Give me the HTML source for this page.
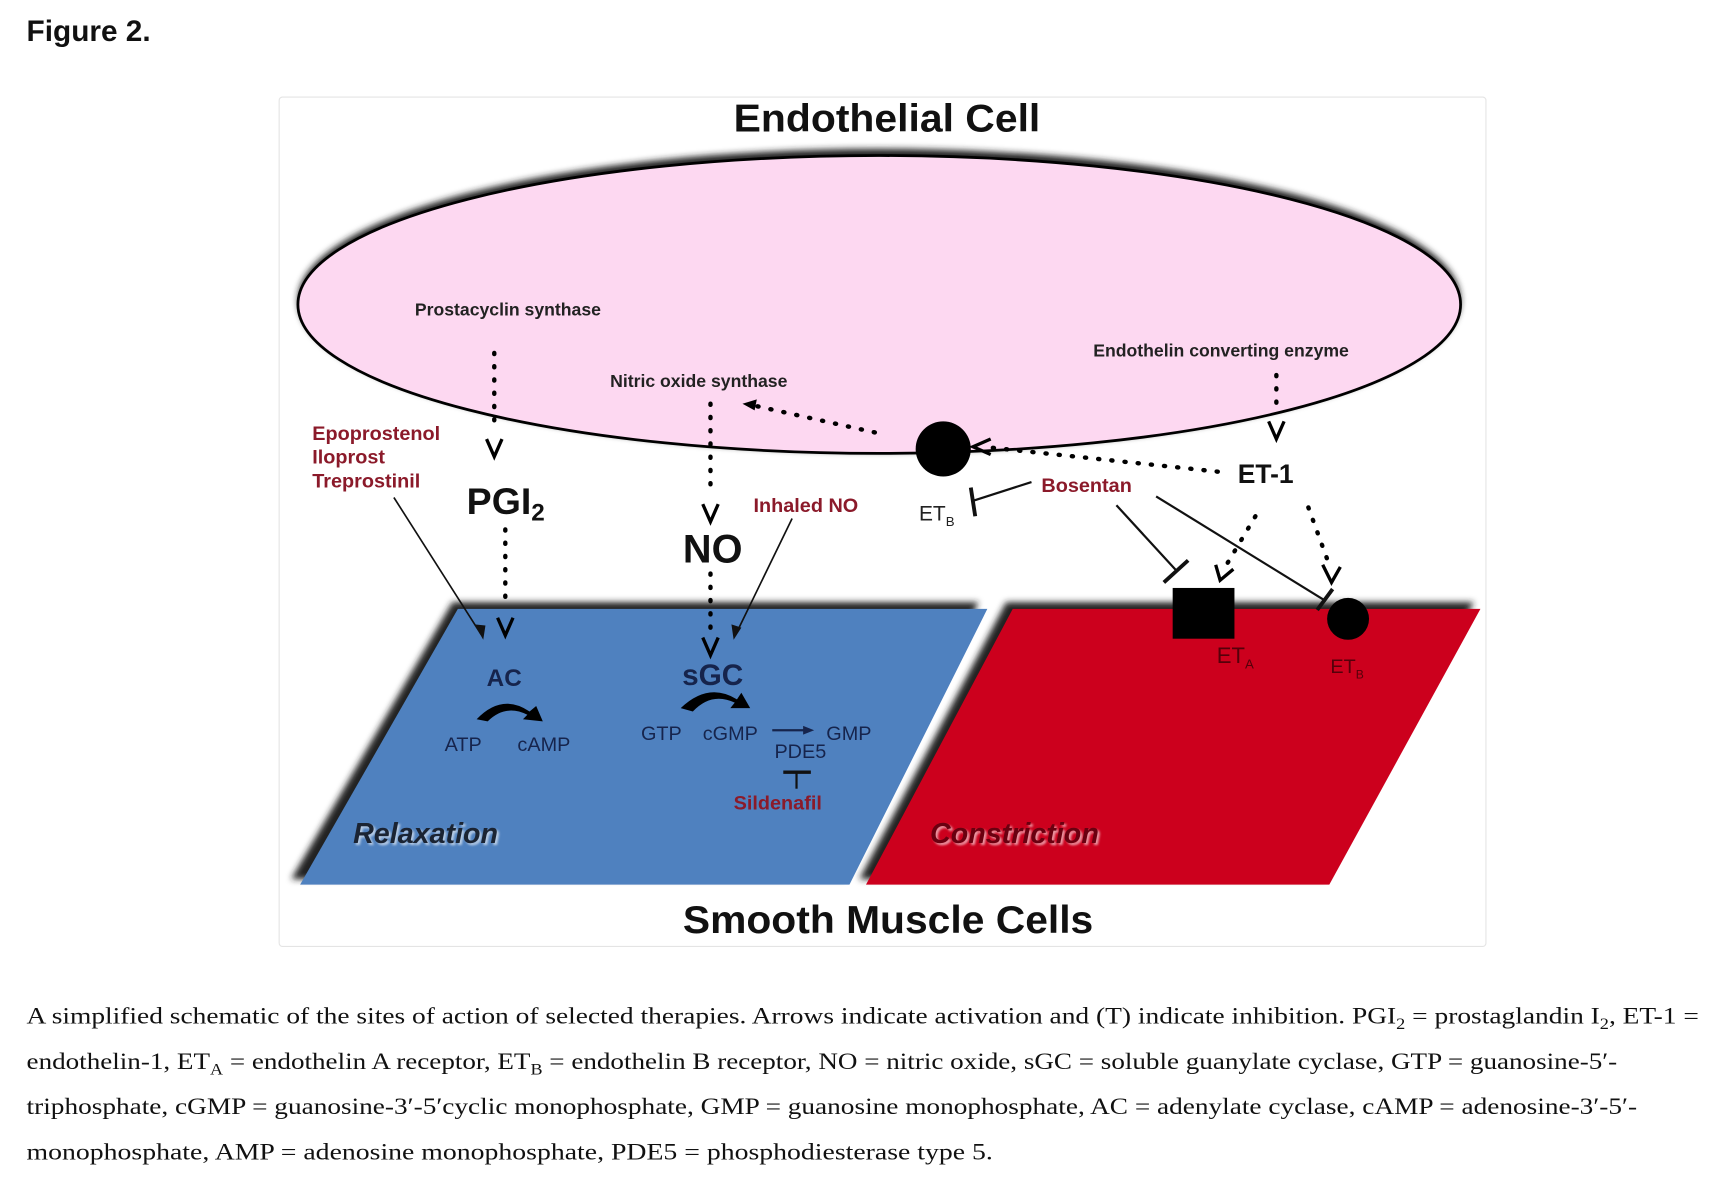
<!DOCTYPE html>
<html><head><meta charset="utf-8"><style>
html,body{margin:0;padding:0;background:#fff;}
svg{display:block;}
text{font-family:"Liberation Sans",sans-serif;}
.b{font-weight:bold;}
.r{fill:#8b1a2a;font-weight:bold;}
.n{fill:#16244c;}
.cap{font-family:"Liberation Serif",serif;font-size:21px;fill:#111;}
</style></head><body>
<svg width="1721" height="1177" viewBox="0 0 1560 1067" xmlns="http://www.w3.org/2000/svg">
<defs>
<filter id="sh" x="-10%" y="-10%" width="120%" height="130%"><feGaussianBlur stdDeviation="3"/></filter>
<filter id="ts"><feGaussianBlur stdDeviation="1"/></filter>
</defs>
<text x="24" y="37" class="b" font-size="27" fill="#111">Figure 2.</text>
<rect x="253" y="88" width="1094" height="770" fill="#fff" stroke="#e4e4e4" stroke-width="1" rx="3"/>
<text x="665" y="119" class="b" font-size="35" fill="#111" textLength="278" lengthAdjust="spacingAndGlyphs">Endothelial Cell</text>
<ellipse cx="797" cy="272" rx="527" ry="137" fill="#222" filter="url(#sh)"/>
<ellipse cx="797" cy="276" rx="527" ry="135" fill="#fdd8f1" stroke="#000" stroke-width="2.5"/>
<polygon points="410,546 887,546 765,797 264,797" fill="#222" filter="url(#sh)"/>
<polygon points="912,546 1336,546 1200,797 779,797" fill="#222" filter="url(#sh)"/>
<polygon points="415,552 895,552 770,802 272,802" fill="#4f81bf"/>
<polygon points="918,552 1342,552 1205,802 785,802" fill="#cc001d"/>
<text x="619" y="846" class="b" font-size="35" fill="#111" textLength="372" lengthAdjust="spacingAndGlyphs">Smooth Muscle Cells</text>

<g font-size="16" class="b" fill="#222">
<text x="376" y="286">Prostacyclin synthase</text>
<text x="553" y="351">Nitric oxide synthase</text>
<text x="991" y="323">Endothelin converting enzyme</text>
</g>
<g stroke="#000" stroke-width="4" stroke-dasharray="1 11" stroke-linecap="round" fill="none">
<line x1="448" y1="320" x2="448" y2="385"/>
<line x1="644" y1="366" x2="644" y2="450"/>
<line x1="1157" y1="340" x2="1157" y2="372"/>
<line x1="458" y1="480" x2="458" y2="550"/>
<line x1="644" y1="520" x2="644" y2="572"/>
<line x1="793" y1="392" x2="685" y2="368"/>
<line x1="900" y1="406" x2="1108" y2="428"/>
<line x1="1138" y1="468" x2="1110" y2="515"/>
<line x1="1186" y1="460" x2="1206" y2="515"/>
</g>
<g stroke="#000" stroke-width="3" fill="none">
<polyline points="441,398 448,414 455,398"/>
<polyline points="637,457 644,473 651,457"/>
<polyline points="1150,382 1157,398 1164,382"/>
<polyline points="451,560 458,576 465,560"/>
<polyline points="637,578 644,594 651,578"/>
<polyline points="898,398 882,405 898,412"/>
<polyline points="1102,512 1106,526 1118,516"/>
<polyline points="1199,512 1207,528 1215,514"/>
</g>
<polygon points="673,366 686,362 684,372" fill="#000"/>
<g font-size="18" class="r">
<text x="283" y="399">Epoprostenol</text>
<text x="283" y="420">Iloprost</text>
<text x="283" y="442">Treprostinil</text>
<text x="683" y="464">Inhaled NO</text>
<text x="944" y="446">Bosentan</text>
</g>
<text x="423" y="466" class="b" font-size="34" fill="#111">PGI<tspan font-size="22" dy="6">2</tspan></text>
<text x="619" y="510" class="b" font-size="36" fill="#111">NO</text>
<g stroke="#111" stroke-width="1.5" fill="none">
<line x1="357" y1="451" x2="436" y2="575"/>
<line x1="718" y1="470" x2="667" y2="575"/>
</g>
<polygon points="438,580 430,566 440,567" fill="#111"/>
<polygon points="665,580 663,566 672,569" fill="#111"/>
<text x="457" y="622" text-anchor="middle" class="b n" font-size="22">AC</text>
<text x="646" y="621" text-anchor="middle" class="b n" font-size="27">sGC</text>
<path d="M432,652 Q455,628 480,645 L486,640 L492,654 L474,652 L478,648 Q458,638 442,654 Z" fill="#000"/>
<path d="M617,642 Q642,618 668,634 L672,628 L680,642 L662,642 L666,637 Q645,627 628,645 Z" fill="#000"/>
<g class="n" font-size="18">
<text x="403" y="681">ATP</text>
<text x="469" y="681">cAMP</text>
<text x="581" y="671">GTP</text>
<text x="637" y="671">cGMP</text>
<text x="749" y="671">GMP</text>
<text x="702" y="687">PDE5</text>
</g>
<line x1="700" y1="662" x2="730" y2="662" stroke="#16244c" stroke-width="2"/>
<polygon points="738,662 728,658 728,666" fill="#16244c"/>
<line x1="710" y1="700" x2="735" y2="700" stroke="#111" stroke-width="3"/>
<line x1="722" y1="700" x2="722" y2="715" stroke="#111" stroke-width="2"/>
<text x="665" y="734" font-size="18" class="r">Sildenafil</text>
<text x="322" y="766" class="b" font-size="26" font-style="italic" fill="#fff" opacity="0.6" filter="url(#ts)">Relaxation</text>
<text x="320" y="764" class="b" font-size="26" font-style="italic" fill="#1b2433">Relaxation</text>
<text x="845" y="766" class="b" font-size="26" font-style="italic" fill="#fff" opacity="0.6" filter="url(#ts)">Constriction</text>
<text x="843" y="764" class="b" font-size="26" font-style="italic" fill="#6a0010">Constriction</text>
<circle cx="855" cy="407" r="25" fill="#000"/>
<text x="1122" y="438" class="b" font-size="24" fill="#111">ET-1</text>
<text x="833" y="472" font-size="19" fill="#222">ET<tspan font-size="12" dy="5">B</tspan></text>
<g stroke="#111" stroke-width="2" fill="none">
<line x1="935" y1="437" x2="882" y2="454"/>
<line x1="1012" y1="458" x2="1067" y2="518"/>
<line x1="1048" y1="450" x2="1202" y2="545"/>
</g>
<g stroke="#111" stroke-width="3.5">
<line x1="880" y1="442" x2="884" y2="468"/>
<line x1="1055" y1="528" x2="1077" y2="508"/>
<line x1="1194" y1="553" x2="1208" y2="534"/>
</g>
<rect x="1063" y="533" width="56" height="46" fill="#000"/>
<circle cx="1222" cy="561" r="19" fill="#000"/>
<text x="1103" y="601" font-size="20" fill="#55000a">ET<tspan font-size="12" dy="5">A</tspan></text>
<text x="1206" y="610" font-size="18" fill="#55000a">ET<tspan font-size="11" dy="5">B</tspan></text>
<text class="cap" x="24" y="928" textLength="1516" lengthAdjust="spacingAndGlyphs">A simplified schematic of the sites of action of selected therapies. Arrows indicate activation and (T) indicate inhibition. PGI<tspan font-size="14" dy="5">2</tspan><tspan dy="-5"> = prostaglandin I</tspan><tspan font-size="14" dy="5">2</tspan><tspan dy="-5">, ET-1 =</tspan></text>
<text class="cap" x="24" y="969" textLength="1442" lengthAdjust="spacingAndGlyphs">endothelin-1, ET<tspan font-size="14" dy="5">A</tspan><tspan dy="-5"> = endothelin A receptor, ET</tspan><tspan font-size="14" dy="5">B</tspan><tspan dy="-5"> = endothelin B receptor, NO = nitric oxide, sGC = soluble guanylate cyclase, GTP = guanosine-5′-</tspan></text>
<text class="cap" x="24" y="1010" textLength="1460" lengthAdjust="spacingAndGlyphs">triphosphate, cGMP = guanosine-3′-5′cyclic monophosphate, GMP = guanosine monophosphate, AC = adenylate cyclase, cAMP = adenosine-3′-5′-</text>
<text class="cap" x="24" y="1051" textLength="876" lengthAdjust="spacingAndGlyphs">monophosphate, AMP = adenosine monophosphate, PDE5 = phosphodiesterase type 5.</text>
</svg>
</body></html>
